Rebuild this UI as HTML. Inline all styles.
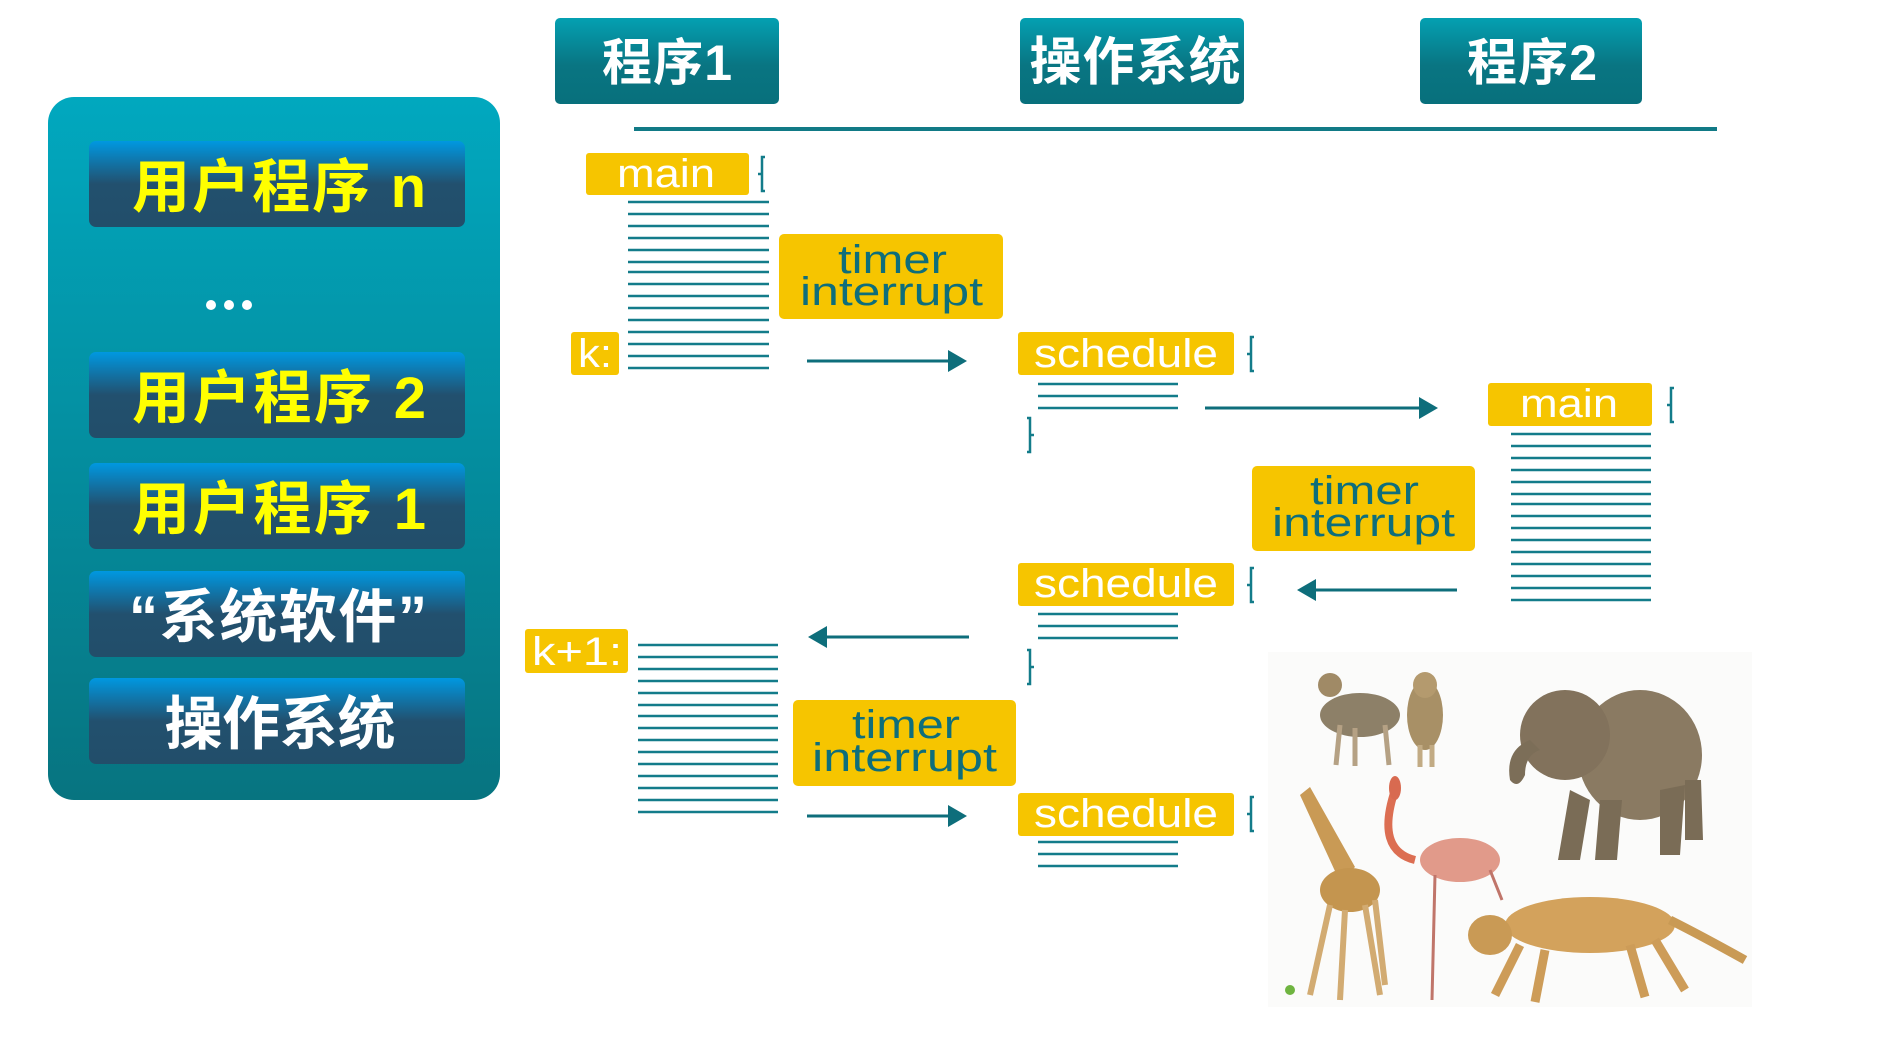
<!DOCTYPE html>
<html><head><meta charset="utf-8">
<style>
html,body{margin:0;padding:0;background:#fff;}
body{width:1878px;height:1054px;overflow:hidden;position:relative;}
svg{position:absolute;left:0;top:0;}
</style></head>
<body>
<svg width="1878" height="1054" viewBox="0 0 1878 1054" xmlns="http://www.w3.org/2000/svg">
<defs>
<linearGradient id="panel" x1="0" y1="0" x2="0" y2="1">
<stop offset="0" stop-color="#01a8bf"/><stop offset="1" stop-color="#077480"/>
</linearGradient>
<linearGradient id="btn" x1="0" y1="0" x2="0" y2="1">
<stop offset="0" stop-color="#0098e0"/><stop offset="0.5" stop-color="#22506e"/><stop offset="1" stop-color="#224e6a"/>
</linearGradient>
<linearGradient id="hdr" x1="0" y1="0" x2="0" y2="1">
<stop offset="0" stop-color="#04a0b2"/><stop offset="0.55" stop-color="#097582"/><stop offset="1" stop-color="#08707c"/>
</linearGradient>
</defs>

<!-- left panel -->
<rect x="48" y="97" width="452" height="703" rx="26" fill="url(#panel)"/>
<g font-family="'Liberation Sans','Noto Sans CJK SC',sans-serif" font-weight="bold" text-anchor="middle">
<rect x="89" y="141" width="376" height="86" rx="7" fill="url(#btn)"/>
<text x="279" y="207" font-size="58" fill="#ffff00" textLength="294">用户程序 n</text>
<circle cx="211" cy="305" r="5" fill="#fff"/><circle cx="229" cy="305" r="5" fill="#fff"/><circle cx="247" cy="305" r="5" fill="#fff"/>
<rect x="89" y="352" width="376" height="86" rx="7" fill="url(#btn)"/>
<text x="279" y="418" font-size="58" fill="#ffff00" textLength="294">用户程序 2</text>
<rect x="89" y="463" width="376" height="86" rx="7" fill="url(#btn)"/>
<text x="279" y="529" font-size="58" fill="#ffff00" textLength="294">用户程序 1</text>
<rect x="89" y="571" width="376" height="86" rx="7" fill="url(#btn)"/>
<text x="278" y="637" font-size="58" fill="#ffffff" textLength="298">“系统软件”</text>
<rect x="89" y="678" width="376" height="86" rx="7" fill="url(#btn)"/>
<text x="280" y="744" font-size="58" fill="#ffffff" textLength="231">操作系统</text>
</g>

<!-- headers -->
<g font-family="'Liberation Sans','Noto Sans CJK SC',sans-serif" font-weight="bold" text-anchor="middle" fill="#fff">
<rect x="555" y="18" width="224" height="86" rx="5" fill="url(#hdr)"/>
<text x="667" y="80" font-size="50" textLength="130">程序1</text>
<rect x="1020" y="18" width="224" height="86" rx="5" fill="url(#hdr)"/>
<text x="1135" y="80" font-size="52" textLength="211">操作系统</text>
<rect x="1420" y="18" width="222" height="86" rx="5" fill="url(#hdr)"/>
<text x="1532" y="80" font-size="50" textLength="130">程序2</text>
</g>
<rect x="634" y="127" width="1083" height="4" fill="#117a86"/>

<!-- yellow boxes -->
<g fill="#f6c500">
<rect x="586" y="153" width="163" height="42" rx="3"/>
<rect x="571" y="332" width="48" height="43" rx="3"/>
<rect x="779" y="234" width="224" height="85" rx="5"/>
<rect x="1018" y="332" width="216" height="43" rx="3"/>
<rect x="1488" y="383" width="164" height="43" rx="3"/>
<rect x="1252" y="466" width="223" height="85" rx="5"/>
<rect x="1018" y="563" width="216" height="43" rx="3"/>
<rect x="525" y="629" width="103" height="44" rx="3"/>
<rect x="793" y="700" width="223" height="86" rx="5"/>
<rect x="1018" y="793" width="216" height="43" rx="3"/>
</g>

<g font-family="'Liberation Sans',sans-serif" font-size="40">
<text x="617" y="187" fill="#fff" textLength="98" lengthAdjust="spacingAndGlyphs">main</text>
<text x="578" y="367" fill="#fff" textLength="34" lengthAdjust="spacingAndGlyphs">k:</text>
<text x="1034" y="367" fill="#fff" textLength="184" lengthAdjust="spacingAndGlyphs">schedule</text>
<text x="1520" y="417" fill="#fff" textLength="98" lengthAdjust="spacingAndGlyphs">main</text>
<text x="1034" y="597" fill="#fff" textLength="184" lengthAdjust="spacingAndGlyphs">schedule</text>
<text x="532" y="665" fill="#fff" textLength="90" lengthAdjust="spacingAndGlyphs">k+1:</text>
<text x="1034" y="827" fill="#fff" textLength="184" lengthAdjust="spacingAndGlyphs">schedule</text>
<g fill="#0e6e7b">
<text x="838" y="273" textLength="109" lengthAdjust="spacingAndGlyphs">timer</text>
<text x="800" y="305" textLength="183" lengthAdjust="spacingAndGlyphs">interrupt</text>
<text x="1310" y="504" textLength="109" lengthAdjust="spacingAndGlyphs">timer</text>
<text x="1272" y="536" textLength="183" lengthAdjust="spacingAndGlyphs">interrupt</text>
<text x="852" y="738" textLength="108" lengthAdjust="spacingAndGlyphs">timer</text>
<text x="812" y="771" textLength="185" lengthAdjust="spacingAndGlyphs">interrupt</text>
</g>
</g>

<!-- code lines -->
<g stroke="#137c8a" stroke-width="2.5">
<path d="M628 202H769M628 214H769M628 226H769M628 238H769M628 250H769M628 262H769M628 272H769M628 284H769M628 296H769M628 308H769M628 320H769M628 332H769M628 344H769M628 356H769M628 368H769"/>
<path d="M1038 384H1178M1038 396H1178M1038 408H1178"/>
<path d="M1511 434H1651M1511 446H1651M1511 458H1651M1511 470H1651M1511 482H1651M1511 494H1651M1511 504H1651M1511 516H1651M1511 528H1651M1511 540H1651M1511 552H1651M1511 564H1651M1511 576H1651M1511 588H1651M1511 600H1651"/>
<path d="M1038 614H1178M1038 626H1178M1038 638H1178"/>
<path d="M638 645H778M638 657H778M638 669H778M638 681H778M638 693H778M638 705H778M638 716H778M638 728H778M638 740H778M638 752H778M638 764H778M638 776H778M638 788H778M638 800H778M638 812H778"/>
<path d="M1038 842H1178M1038 854H1178M1038 866H1178"/>
</g>

<!-- braces -->
<g stroke="#137c8a" stroke-width="2.5" fill="none">
<path d="M765 157h-3v34h3M762 174h-4"/>
<path d="M1254 337h-3v34h3M1251 354h-4"/>
<path d="M1674 388h-3v34h3M1671 405h-4"/>
<path d="M1254 568h-3v34h3M1251 585h-4"/>
<path d="M1254 797h-3v34h3M1251 814h-4"/>
<path d="M1027 418h3v34h-3M1030 435h4"/>
<path d="M1027 650h3v34h-3M1030 667h4"/>
</g>

<!-- arrows -->
<g stroke="#0e6e7b" stroke-width="3" fill="#0e6e7b">
<path d="M807 361H952"/><path d="M967 361l-19-11v22z" stroke="none"/>
<path d="M1205 408H1422"/><path d="M1438 408l-19-11v22z" stroke="none"/>
<path d="M1457 590H1312"/><path d="M1297 590l19-11v22z" stroke="none"/>
<path d="M969 637H823"/><path d="M808 637l19-11v22z" stroke="none"/>
<path d="M807 816H952"/><path d="M967 816l-19-11v22z" stroke="none"/>
</g>

<!-- animal picture -->
<rect x="1268" y="652" width="484" height="355" fill="#fbfbfa"/>
<g>
<!-- wolves -->
<ellipse cx="1360" cy="715" rx="40" ry="22" fill="#8d8068"/>
<ellipse cx="1330" cy="685" rx="12" ry="12" fill="#a08a66"/>
<path d="M1340 725l-4 40M1355 728l0 38M1385 725l4 40" stroke="#b5a184" stroke-width="5"/>
<ellipse cx="1425" cy="715" rx="18" ry="35" fill="#a89066"/>
<ellipse cx="1425" cy="685" rx="12" ry="13" fill="#b49a6e"/>
<path d="M1420 745v22M1432 745v22" stroke="#c2ab84" stroke-width="5"/>
<!-- elephant -->
<ellipse cx="1640" cy="755" rx="62" ry="65" fill="#8a7a62"/>
<ellipse cx="1565" cy="735" rx="45" ry="45" fill="#82725c"/>
<path d="M1530 740q-25 10 -20 40q8 10 15 -5q0 -20 15 -25z" fill="#7c6e58"/>
<path d="M1570 790l-12 70h22l10-60zM1600 800l-5 60h22l5-60zM1660 790l0 65h20l5-70zM1685 780l0 60h18l-2-60z" fill="#7a6c56"/>
<!-- giraffe -->
<path d="M1300 795l10 -8 45 80 -15 15z" fill="#c99a55"/>
<ellipse cx="1350" cy="890" rx="30" ry="22" fill="#c4954f"/>
<path d="M1330 905l-20 90M1345 910l-5 90M1365 905l15 90M1375 900l10 85" stroke="#d2ab72" stroke-width="6"/>
<!-- flamingo -->
<path d="M1395 790q-20 60 20 70" stroke="#dc6e52" stroke-width="8" fill="none"/>
<ellipse cx="1395" cy="788" rx="6" ry="12" fill="#d86a50"/>
<ellipse cx="1460" cy="860" rx="40" ry="22" fill="#e19a8a"/>
<path d="M1435 875l-3 125M1490 870l12 30" stroke="#c0756a" stroke-width="3" fill="none"/>
<!-- cheetah -->
<ellipse cx="1590" cy="925" rx="85" ry="28" fill="#d3a25c"/>
<ellipse cx="1490" cy="935" rx="22" ry="20" fill="#c99a55"/>
<path d="M1670 920q30 15 75 40" stroke="#c99a55" stroke-width="9" fill="none"/>
<path d="M1520 945l-25 50M1545 950l-10 52M1630 945l15 52M1655 940l30 50" stroke="#cd9c58" stroke-width="9"/>
<circle cx="1290" cy="990" r="5" fill="#6fb440"/>
</g>
</svg>
</body></html>
